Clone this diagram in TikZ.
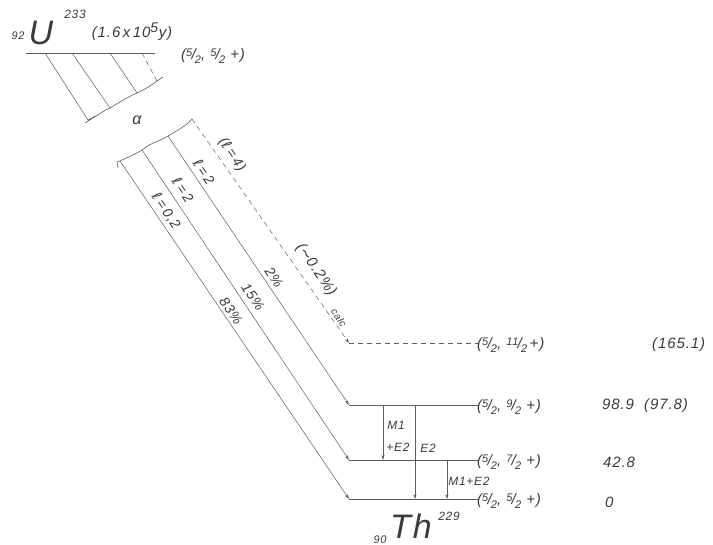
\documentclass[tikz,border=0pt]{standalone}
\usepackage{fontspec}
\setmainfont{Liberation Sans}[LetterSpace=6]
\newfontfamily\symfont{DejaVu Sans}
\usetikzlibrary{arrows.meta}
\definecolor{ink}{HTML}{3A3A3A}
\definecolor{pen}{HTML}{5C5C5C}
\newcommand\hfr[2]{\raisebox{0.42ex}{\fontsize{11}{12}\selectfont #1}\kern-0.05em/\kern-0.05em\raisebox{-0.42ex}{\fontsize{11}{12}\selectfont #2}}
\newcommand\ellsym{{\symfont\upshape ℓ}}
\tikzset{
  lvl/.style={draw=pen, line width=0.9pt},
  thin/.style={draw=pen, line width=0.5pt},
  tip/.style={-{Stealth[length=5pt,width=3pt]}},
  txt/.style={text=ink, font=\itshape\fontsize{15}{18}\selectfont, inner sep=0pt},
  small/.style={text=ink, font=\itshape\fontsize{12}{14}\selectfont, inner sep=0pt},
  rot/.style={text=ink, font=\itshape\fontsize{14}{16}\selectfont, inner sep=0pt, rotate=-55.8},
  dsh/.style={dash pattern=on 5pt off 4pt}
}
\begin{document}
\begin{tikzpicture}[x=1pt,y=-1pt]
\useasboundingbox (0,0) rectangle (713,545);
% parent level
\coordinate (u0) at (26,53); \coordinate (u1) at (155,53);
\draw[lvl] (u0) -- (u1);
\node[small, font=\itshape\fontsize{11}{13}\selectfont] (z92) at (18,36) {92};
\node[txt, font=\itshape\fontsize{34}{36}\selectfont] (U) at (41,33) {U};
\node[small, font=\itshape\fontsize{12}{14}\selectfont] (a233) at (75,14) {233};
\node[txt, font=\itshape\fontsize{15}{17}\selectfont] (hl) at (132,32) {(1.6\,x\,10\textsuperscript{\fontsize{14}{15}\selectfont 5}y)};
\node[txt, anchor=west] (uspin) at (181,56) {(\hfr52, \hfr52 +)};
% hatching
\coordinate (h1a) at (45,53);  \coordinate (h1b) at (88,120);
\coordinate (h2a) at (72,53);  \coordinate (h2b) at (110,108);
\coordinate (h3a) at (110,53); \coordinate (h3b) at (137,93);
\coordinate (h4a) at (142,53); \coordinate (h4b) at (157,81);
\draw[thin] (h1a) -- (h1b);
\draw[thin] (h2a) -- (h2b);
\draw[thin] (h3a) -- (h3b);
\draw[thin, dsh] (h4a) -- (h4b);
\coordinate (w0) at (85,123); \coordinate (w4) at (163,77);
\draw[thin, line width=0.6pt] (w0) .. controls (96,116) and (101,113) .. (h1b)
  .. controls (98,116) and (104,110) .. (h2b)
  .. controls (120,102) and (128,97) .. (h3b)
  .. controls (146,89) and (153,84) .. (h4b)
  -- (w4);
\node[txt, font=\itshape\fontsize{16}{18}\selectfont] (alpha) at (137,120) {α};
% lower wavy line
\coordinate (b0) at (117,162); \coordinate (b0t) at (118,168);
\coordinate (a0s) at (120,161); \coordinate (a1s) at (142,150);
\coordinate (a2s) at (168,136); \coordinate (a3s) at (192,119);
\draw[thin, line width=0.6pt] (b0t) -- (b0) -- (a0s)
  .. controls (128,157) and (136,154) .. (a1s)
  .. controls (152,142) and (160,141) .. (a2s)
  .. controls (178,130) and (186,126) .. (a3s);
% daughter levels
\coordinate (l4w) at (349,343); \coordinate (l4e) at (478,343);
\coordinate (l3w) at (349,405); \coordinate (l3e) at (478,405);
\coordinate (l2w) at (349,460); \coordinate (l2e) at (478,460);
\coordinate (l1w) at (349,499); \coordinate (l1e) at (478,499);
\draw[thin, line width=0.7pt, dsh] (l4w) -- (l4e);
\draw[lvl] (l3w) -- (l3e);
\draw[lvl] (l2w) -- (l2e);
\draw[lvl] (l1w) -- (l1e);
% alpha branches
\draw[thin, tip] (a0s) -- (l1w);
\draw[thin, tip] (a1s) -- (l2w);
\draw[thin, tip] (a2s) -- (l3w);
\draw[thin, dsh, tip] (a3s) -- (l4w);
% branch labels
\node[rot] (q4) at (232,155) {(\ellsym\,=\,4)};
\node[rot] (q3) at (204,172) {\ellsym\,=\,2};
\node[rot] (q2) at (183,190) {\ellsym\,=\,2};
\node[rot] (q1) at (166,211) {\ellsym\,=\,0,2};
\node[rot] (p3) at (274,277) {2\%};
\node[rot] (p2) at (253,297) {15\%};
\node[rot] (p1) at (231,311) {83\%};
\node[rot, font=\itshape\fontsize{15}{17}\selectfont] (p4) at (316,270) {({\symfont∼}0.2\%)};
\node[rot, font=\itshape\fontsize{10}{11}\selectfont] (p4c) at (339,318) {calc};
% level labels
\node[txt, anchor=west] (s4) at (477,345) {(\hfr52, \hfr{11}2\,+)};
\node[txt, anchor=west] (s3) at (477,407) {(\hfr52, \hfr92 +)};
\node[txt, anchor=west] (s2) at (477,462) {(\hfr52, \hfr72 +)};
\node[txt, anchor=west] (s1) at (477,501) {(\hfr52, \hfr52 +)};
\node[txt, anchor=west] (e4) at (652,345) {(165.1)};
\node[txt, anchor=west] (e3) at (602,406) {98.9\ \ (97.8)};
\node[txt, anchor=west] (e2) at (603,462) {42.8};
\node[txt, anchor=west] (e1) at (605,502) {0};
% gamma transitions
\coordinate (g1a) at (383,405); \coordinate (g1b) at (383,460);
\coordinate (g2a) at (415,405); \coordinate (g2b) at (415,499);
\coordinate (g3a) at (447,460); \coordinate (g3b) at (447,499);
\draw[thin, tip] (g1a) -- (g1b);
\draw[thin, tip] (g2a) -- (g2b);
\draw[thin, tip] (g3a) -- (g3b);
\node[small] (m1) at (396,425) {M1};
\node[small] (m1b) at (398,447) {+E2};
\node[small] (e2g) at (428,448) {E2};
\node[small] (m3) at (469,481) {M1+E2};
% daughter
\node[small, font=\itshape\fontsize{11}{13}\selectfont] (z90) at (380,540) {90};
\node[txt, font=\itshape\fontsize{34}{36}\selectfont] (Th) at (411,526) {Th};
\node[small, font=\itshape\fontsize{12}{14}\selectfont] (a229) at (449,516) {229};
\end{tikzpicture}
\end{document}
